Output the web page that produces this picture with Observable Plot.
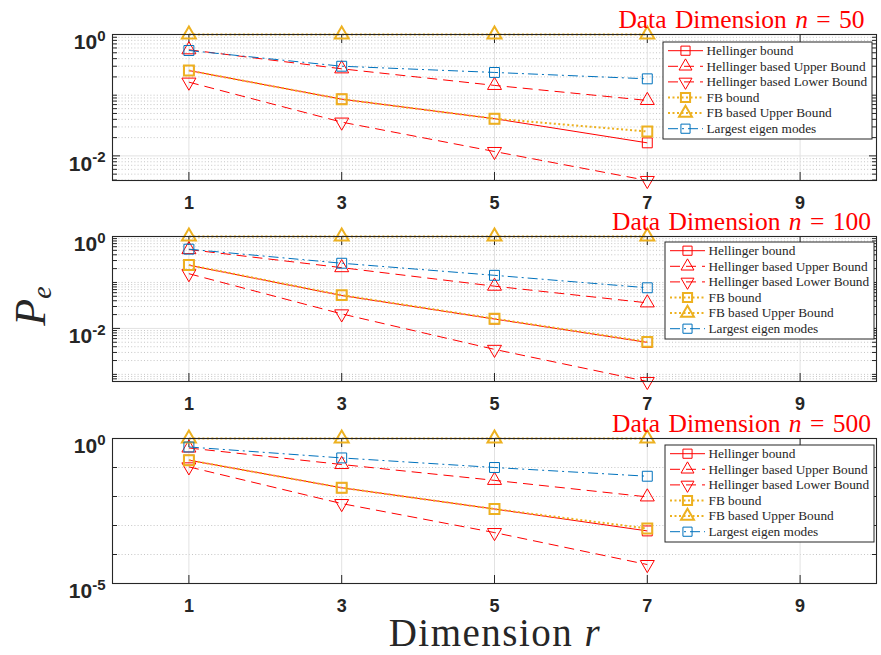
<!DOCTYPE html>
<html>
<head>
<meta charset="utf-8">
<script src="https://cdn.jsdelivr.net/npm/d3@7"></script>
<script src="https://cdn.jsdelivr.net/npm/@observablehq/plot@0.6"></script>
<style>
  body { margin: 0; background: #fff; }
  #chart { position: relative; width: 881px; height: 655px; overflow: hidden; background: #fff; }
  #chart svg { position: absolute; left: 0; }
</style>
</head>
<body>
<div id="chart"></div>
<script>
// Reduced dimension r on the x axis
const dims = [1, 3, 5, 7];
const xTicks = [1, 3, 5, 7, 9];

const seriesNames = [
  "Hellinger bound",
  "Hellinger based Upper Bound",
  "Hellinger based Lower Bound",
  "FB bound",
  "FB based Upper Bound",
  "Largest eigen modes"
];

// Probability of error P_e, data dimension n = 50
const hellinger50      = [0.255, 0.086, 0.041, 0.0164];
const hellingerUpper50 = [0.56, 0.272, 0.145, 0.082];
const hellingerLower50 = [0.164, 0.036, 0.0118, 0.00393];
const fb50             = [0.255, 0.086, 0.041, 0.0252];
const fbUpper50        = [1, 1, 1, 1];
const eigen50          = [0.545, 0.30, 0.237, 0.186];

// n = 100
const hellinger100      = [0.237, 0.052, 0.016, 0.00497];
const hellingerUpper100 = [0.52, 0.21, 0.083, 0.036];
const hellingerLower100 = [0.155, 0.0207, 0.0035, 0.0007];
const fb100             = [0.24, 0.053, 0.0163, 0.0051];
const fbUpper100        = [1, 1, 1, 1];
const eigen100          = [0.53, 0.262, 0.143, 0.0766];

// n = 500
const hellinger500      = [0.179, 0.02, 0.0037, 0.00065];
const hellingerUpper500 = [0.47, 0.127, 0.036, 0.0097];
const hellingerLower500 = [0.105, 0.0057, 0.00057, 0.000045];
const fb500             = [0.179, 0.02, 0.0037, 0.00079];
const fbUpper500        = [1, 1, 1, 1];
const eigen500          = [0.51, 0.214, 0.1, 0.05];

const panelData = [
  {n: 50,  series: [hellinger50, hellingerUpper50, hellingerLower50, fb50, fbUpper50, eigen50],
   yLabels: [1, 0.01], yMin: d3.min(hellingerLower50), minorStep: "unit"},
  {n: 100, series: [hellinger100, hellingerUpper100, hellingerLower100, fb100, fbUpper100, eigen100],
   yLabels: [1, 0.01], yMin: d3.min(hellingerLower100), minorStep: "unit"},
  {n: 500, series: [hellinger500, hellingerUpper500, hellingerLower500, fb500, fbUpper500, eigen500],
   yLabels: [1, 1e-5], yMin: 1e-5, minorStep: "decade"}
];

// Line and marker appearance of each series
const RED = "#ff0000", ORANGE = "#EDB120", BLUE = "#0072BD";
const styles = [
  {stroke: RED,    dash: null,       width: 1, symbol: "square",   rotate: 0,   r: 5.6, mw: 1},
  {stroke: RED,    dash: "10,6",     width: 1, symbol: "triangle", rotate: 0,   r: 5.2, mw: 1},
  {stroke: RED,    dash: "10,6",     width: 1, symbol: "triangle", rotate: 180, r: 5.2, mw: 1},
  {stroke: ORANGE, dash: "2,2.5",    width: 2, symbol: "square",   rotate: 0,   r: 5.6, mw: 2},
  {stroke: ORANGE, dash: "2,2.5",    width: 2, symbol: "triangle", rotate: 0,   r: 5.2, mw: 2},
  {stroke: BLUE,   dash: "10,4,2,4", width: 1, symbol: "square",   rotate: 0,   r: 5.6, mw: 1}
];

// Page layout of the three stacked axes
const layout = [
  {top: 0,   height: 215, marginTop: 34, marginBottom: 35, titleY: 28,    legendX: 663, legendY: 42},
  {top: 200, height: 215, marginTop: 36, marginBottom: 34, titleY: 229.5, legendX: 665, legendY: 242},
  {top: 400, height: 220, marginTop: 38, marginBottom: 37, titleY: 431.5, legendX: 665, legendY: 445}
];

const AXIS = "#262626";
const chart = document.getElementById("chart");

function logTicks(lo, hi, step, exclude) {
  const out = [];
  for (let e = Math.floor(Math.log10(lo)); e <= Math.ceil(Math.log10(hi)); e++) {
    const ks = step === "unit" ? [1, 2, 3, 4, 5, 6, 7, 8, 9] : [1];
    for (const k of ks) {
      const v = k * Math.pow(10, e);
      if (v >= lo * 0.999 && v <= hi * 1.001 && !exclude.some(x => Math.abs(x - v) / v < 1e-6)) out.push(v);
    }
  }
  return out;
}

panelData.forEach((p, i) => {
  const L = layout[i];
  const rows = p.series.flatMap((vals, s) => vals.map((v, j) => ({r: dims[j], v, s})));
  const minor = logTicks(p.yMin, 1, p.minorStep, p.yLabels);

  const seriesMarks = styles.flatMap((st, s) => {
    const d = rows.filter(row => row.s === s);
    return [
      Plot.line(d, {x: "r", y: "v", stroke: st.stroke, strokeWidth: st.width,
        strokeDasharray: st.dash ?? undefined, strokeLinecap: "butt"}),
      Plot.dot(d, {x: "r", y: "v", symbol: st.symbol, r: st.r, rotate: st.rotate,
        stroke: st.stroke, strokeWidth: st.mw, fill: "none"})
    ];
  });

  const svg = Plot.plot({
    width: 881,
    height: L.height,
    marginLeft: 112,
    marginRight: 5,
    marginTop: L.marginTop,
    marginBottom: L.marginBottom,
    style: {background: "transparent", overflow: "visible", fontFamily: "'Liberation Sans', Arial, sans-serif"},
    x: {domain: [0, 10], axis: null},
    y: {type: "log", domain: [p.yMin, 1], axis: null},
    marks: [
      Plot.ruleY(minor, {stroke: "#b8b8b8", strokeDasharray: "1,2.2", strokeWidth: 0.8}),
      Plot.ruleY(p.yLabels, {stroke: "#e2e2e2", strokeWidth: 1}),
      Plot.ruleX(xTicks, {stroke: "#e2e2e2", strokeWidth: 1}),
      // inward tick marks on all four sides
      Plot.axisY({anchor: "left", ticks: minor, tickSize: -5, tickFormat: () => "", label: null, stroke: AXIS}),
      Plot.axisY({anchor: "right", ticks: minor, tickSize: -5, tickFormat: () => "", label: null, stroke: AXIS}),
      Plot.axisY({anchor: "left", ticks: p.yLabels, tickSize: -8, tickFormat: () => "", label: null, stroke: AXIS}),
      Plot.axisY({anchor: "right", ticks: p.yLabels, tickSize: -8, tickFormat: () => "", label: null, stroke: AXIS}),
      Plot.axisX({anchor: "top", ticks: xTicks, tickSize: -8, tickFormat: () => "", label: null, stroke: AXIS}),
      Plot.axisX({anchor: "bottom", ticks: xTicks, tickSize: -8, tickFormat: () => "", label: null, stroke: AXIS}),
      // tick labels
      Plot.axisY({anchor: "left", ticks: p.yLabels, tickSize: 0, tickPadding: 7, label: null,
        tickFormat: d => "10^" + Math.round(Math.log10(d)), fontSize: 21, fontWeight: "bold", fill: AXIS}),
      Plot.axisX({anchor: "bottom", ticks: xTicks, tickSize: 0, tickPadding: 16, label: null,
        tickFormat: d => String(d), fontSize: 18, fontWeight: "bold", fill: AXIS}),
      ...seriesMarks,
      Plot.frame({stroke: AXIS, strokeWidth: 1.1})
    ]
  });
  svg.style.top = L.top + "px";
  chart.appendChild(svg);

  // power-of-ten labels with a raised exponent
  d3.select(svg).selectAll("text").each(function () {
    const m = /^10\^(-?\d+)$/.exec(this.textContent);
    if (!m) return;
    const sel = d3.select(this);
    sel.text(null);
    sel.append("tspan").attr("dy", "8").text("10");
    sel.append("tspan").attr("dy", "-8.5").attr("font-size", 15).text(m[1]);
  });
});

// Overlay: titles, legends and shared axis labels
const over = d3.select(chart).append("svg")
  .attr("width", 881).attr("height", 655)
  .style("top", "0px")
  .style("font-family", "'Liberation Serif', 'Times New Roman', serif");

panelData.forEach((p, i) => {
  const L = layout[i];
  const t = over.append("text")
    .attr("x", 741.5).attr("y", L.titleY)
    .attr("text-anchor", "middle")
    .attr("font-size", 25.5)
    .attr("word-spacing", 2)
    .attr("fill", RED);
  t.append("tspan").text("Data Dimension ");
  t.append("tspan").attr("font-style", "italic").text("n");
  t.append("tspan").text(" = " + p.n);

  const lg = over.append("g").attr("transform", `translate(${L.legendX},${L.legendY})`);
  lg.append("rect").attr("width", 209).attr("height", 97)
    .attr("fill", "#fff").attr("stroke", AXIS).attr("stroke-width", 1);
  styles.forEach((st, s) => {
    const y = 8.7 + s * 15.6;
    lg.append("line").attr("x1", 5).attr("x2", 40).attr("y1", y).attr("y2", y)
      .attr("stroke", st.stroke).attr("stroke-width", st.width)
      .attr("stroke-dasharray", st.dash);
    const type = st.symbol === "square" ? d3.symbolSquare : d3.symbolTriangle;
    lg.append("path")
      .attr("d", d3.symbol(type, st.r * st.r * Math.PI * 0.85)())
      .attr("transform", `translate(22.5,${y}) rotate(${st.rotate})`)
      .attr("fill", "none").attr("stroke", st.stroke).attr("stroke-width", st.mw);
    lg.append("text").attr("x", 43.5).attr("y", y).attr("dy", "0.33em")
      .attr("font-size", 13.3).attr("fill", AXIS).text(seriesNames[s]);
  });
});

// x axis label
const xl = over.append("text")
  .attr("x", 495).attr("y", 646)
  .attr("text-anchor", "middle")
  .attr("font-size", 39)
  .attr("letter-spacing", 1.5)
  .attr("fill", AXIS);
xl.append("tspan").text("Dimension ");
xl.append("tspan").attr("font-style", "italic").text("r");

// y axis label P_e
const yl = over.append("text")
  .attr("transform", "translate(45,306) rotate(-90)")
  .attr("text-anchor", "middle")
  .attr("fill", AXIS);
yl.append("tspan").attr("font-size", 44).attr("font-style", "italic").text("P");
yl.append("tspan").attr("font-size", 28).attr("font-style", "italic").attr("dy", 6).text("e");
</script>
</body>
</html>
